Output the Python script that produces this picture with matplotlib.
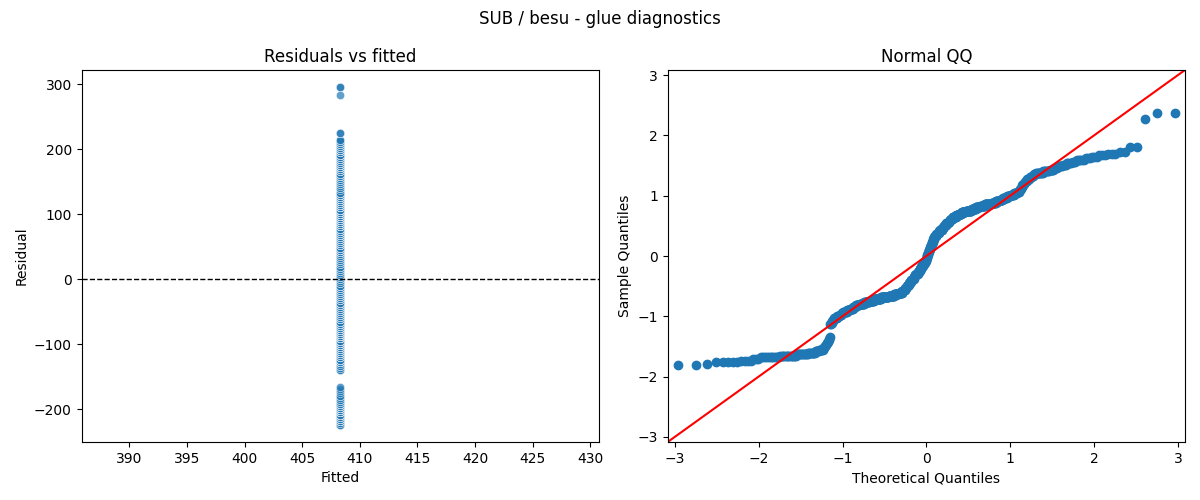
import statistics
import numpy as np
import matplotlib
matplotlib.use("Agg")
import matplotlib.pyplot as plt
import seaborn as sns

# constant fitted value and the residual levels (with how many points sit on each)
fitted_value = 408.3
resid_levels = [
    -224, -220.75, -217.5, -214.25, -211, -207.75, -204.5, -201.25, -198, -194.75,
    -191.5, -188.25, -185, -181.75, -178.5, -175.25, -172, -168.75, -165.5,
    -139.5, -136.25, -133, -129.75, -126.5, -123.25, -120, -116.75, -113.5, -110.25,
    -107, -103.75, -100.5, -97.25, -94, -90.75, -87.5, -84.25, -81, -77.75,
    -74.5, -71.25, -68, -64.75, -61.5, -58.25, -55, -51.75, -48.5, -45.25,
    -42, -38.75, -35.5, -32.25, -29, -25.75, -22.5, -19.25, -16, -12.75,
    -9.5, -6.25, -3,
    0.25, 3.5, 6.75, 10, 13.25, 16.5, 19.75, 23, 26.25, 29.5, 32.75, 36, 39.25,
    42.5, 45.75, 49, 52.25, 55.5, 58.75, 62, 65.25, 68.5, 71.75, 75, 78.25,
    81.5, 84.75, 88, 91.25, 94.5, 97.75, 101, 104.25, 107.5, 110.75,
    114, 117.25, 120.5, 123.75, 127, 130.25, 133.5,
    136.75, 140, 143.25, 146.5, 149.75, 153, 156.25, 159.5, 162.75, 166, 169.25,
    172.5, 175.75, 179, 182.25, 185.5, 188.75, 192, 195.25, 198.5, 201.75,
    205, 208.25, 211.5, 214.75,
    224.5, 283, 296,
]
resid_counts = [
    2, 1, 5, 4, 3, 11, 14, 12, 9, 5,
    6, 2, 2, 1, 2, 1, 1, 1, 1,
    2, 1, 2, 1, 6, 4, 4, 3, 8, 6,
    6, 6, 9, 11, 12, 12, 19, 21, 17, 12,
    11, 5, 5, 4, 4, 3, 3, 3, 5, 4,
    3, 4, 6, 3, 3, 3, 4, 3, 3, 3,
    3, 2, 1,
    2, 2, 2, 1, 2, 2, 2, 2, 2, 2, 2, 2, 2,
    5, 4, 4, 4, 7, 4, 4, 4, 6, 4, 4, 5,
    11, 8, 8, 12, 16, 12, 11, 12, 16, 10,
    8, 7, 9, 7, 6, 6, 4,
    1, 2, 1, 2, 2, 2, 2, 4, 3, 3, 3,
    9, 7, 5, 3, 5, 3, 4, 3, 5, 3,
    3, 3, 3, 2,
    2, 1, 2,
]

resid = np.repeat(np.array(resid_levels, dtype=float), resid_counts)
fitted = np.full(len(resid), fitted_value)

fig, (ax1, ax2) = plt.subplots(1, 2, figsize=(12, 5))

# residuals vs fitted
sns.scatterplot(x=fitted, y=resid, alpha=0.7, ax=ax1)
ax1.axhline(0, color="black", linestyle="--", linewidth=1)
ax1.set_title("Residuals vs fitted")
ax1.set_xlabel("Fitted")
ax1.set_ylabel("Residual")

# normal QQ: standardized sample quantiles vs normal quantiles
n = len(resid)
sample_q = np.sort((resid - resid.mean()) / resid.std())
nd = statistics.NormalDist()
theo_q = np.array([nd.inv_cdf(i / (n + 1)) for i in range(1, n + 1)])

ax2.margins(0.02)
ax2.plot(theo_q, sample_q, marker="o", linestyle="none", color="C0", markersize=6)
xl, yl = ax2.get_xlim(), ax2.get_ylim()
lo, hi = min(xl[0], yl[0]), max(xl[1], yl[1])
ax2.plot([lo, hi], [lo, hi], "r")
ax2.set_xlim(lo, hi)
ax2.set_ylim(lo, hi)
ax2.set_title("Normal QQ")
ax2.set_xlabel("Theoretical Quantiles")
ax2.set_ylabel("Sample Quantiles")

fig.suptitle("SUB / besu - glue diagnostics")
fig.subplots_adjust(left=0.068, right=0.9875, bottom=0.116, top=0.86, wspace=0.133)
fig.savefig("out.png", dpi=100)
